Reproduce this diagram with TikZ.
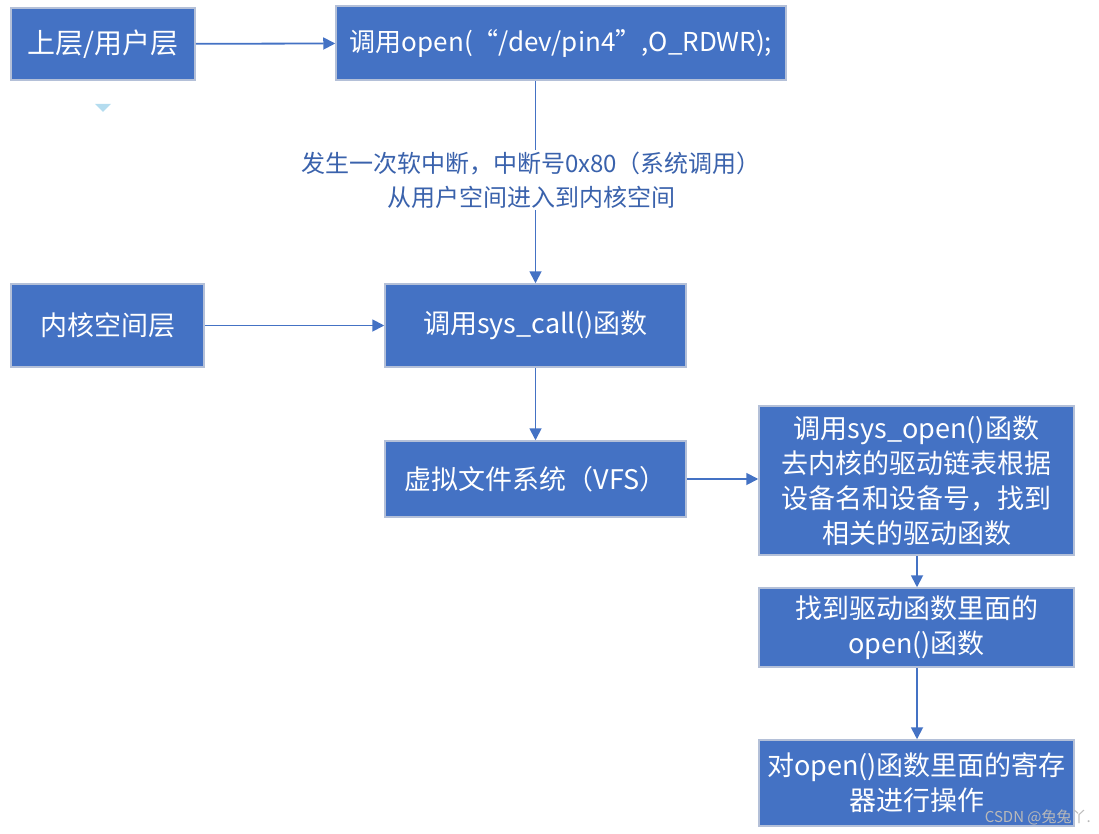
\documentclass[tikz,border=0pt]{standalone}
\usepackage{fontspec}
\setmainfont{Noto Sans CJK SC}
\usetikzlibrary{arrows.meta}
\definecolor{boxblue}{HTML}{4472C4}
\definecolor{boxedge}{HTML}{B4C0D8}
\definecolor{labelblue}{HTML}{3A62AC}
\definecolor{tri}{HTML}{B4DCEF}
\begin{document}
\begin{tikzpicture}[x=1pt,y=-1pt,
  bx/.style={draw=boxedge,line width=1.5pt,fill=boxblue,text=white,inner sep=2pt,
    font=\fontsize{27}{35}\selectfont,align=center},
  conn/.style={draw=boxblue,line width=1.8pt,-{Triangle[length=12pt,width=12pt]}},
  lbl/.style={text=labelblue,font=\fontsize{24}{34}\selectfont,align=center,fill=white,inner sep=2pt}]
\useasboundingbox (0,0) rectangle (1099,834);
\node[bx,minimum width=184pt,minimum height=72pt] (user) at (103,44) {\fontsize{28}{35}\selectfont 上层/用户层};
\node[bx,minimum width=450pt,minimum height=74pt] (open) at (561,43) {\fontsize{26}{35}\selectfont 调用open(“/dev/pin4”,O\_RDWR);};
\node[bx,minimum width=193pt,minimum height=83pt] (kern) at (107.5,325.5) {内核空间层};
\node[bx,minimum width=301pt,minimum height=83pt] (sysc) at (535.5,325.5) {调用sys\_call()函数};
\node[bx,minimum width=301pt,minimum height=76pt] (vfs) at (535.5,479) {虚拟文件系统（VFS）};
\node[bx,minimum width=315pt,minimum height=149pt] (sysopen) at (916.5,480.5) {调用sys\_open()函数\\去内核的驱动链表根据\\设备名和设备号，找到\\相关的驱动函数};
\node[bx,minimum width=315pt,minimum height=79pt] (drv) at (916.5,627.5) {找到驱动函数里面的\\open()函数};
\node[bx,minimum width=315pt,minimum height=86pt] (reg) at (916.5,783) {对open()函数里面的寄存\\器进行操作};
\fill[tri] (95,104) -- (111,104) -- (103,112) -- cycle;
\draw[conn] (user) -- (open);
\draw[conn] (open.south -| sysc) -- (sysc.north);
\node[lbl] (note) at (531,180) {发生一次软中断，中断号0x80（系统调用）\\从用户空间进入到内核空间};
\draw[conn] (kern) -- (sysc);
\draw[conn] (sysc) -- (vfs);
\draw[conn] (vfs.east) -- (vfs.east -| sysopen.west);
\draw[conn] (sysopen.south -| 917,0) -- (drv.north -| 917,0);
\draw[conn] (drv.south -| 917,0) -- (reg.north -| 917,0);
\node[text=gray!55,font=\fontsize{15}{17}\selectfont,anchor=east,inner sep=0pt] (wm) at (1091,817) {CSDN @兔兔丫.};
\end{tikzpicture}
\end{document}
